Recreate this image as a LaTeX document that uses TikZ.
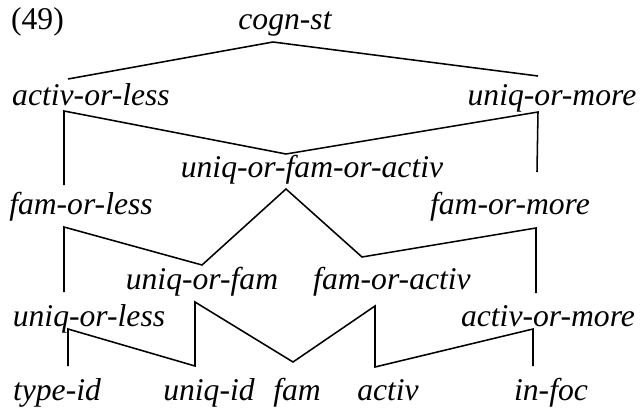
\documentclass[tikz,border=0pt]{standalone}
\usepackage{fontspec}
\setmainfont{Liberation Serif}[ItalicFont={Liberation Serif Italic}]
\usetikzlibrary{math}
\tikzset{
  lat/.style={anchor=base, inner sep=0pt, font=\fontsize{22.5}{27}\selectfont\itshape},
  lnk/.style={line width=1.1pt}
}

\begin{document}
\begin{tikzpicture}[x=0.025cm,y=-0.025cm]
\tikzmath{
\rA=29; \rB=105; \rC=177; \rD=214; \rE=289; \rF=326; \rG=400;
}
\useasboundingbox (0,0) rectangle (640,409);

% types
\node[lat, font=\fontsize{22.5}{27}\selectfont\upshape] (ex) at (37.5,\rA) {(49)};
\node[lat] (cogn) at (285,\rA) {cogn-st};
\node[lat] (al) at (91,\rB) {activ-or-less};
\node[lat] (um) at (552,\rB) {uniq-or-more};
\node[lat] (ufa) at (312,\rC) {uniq-or-fam-or-activ};
\node[lat] (fl) at (81,\rD) {fam-or-less};
\node[lat] (fm) at (510,\rD) {fam-or-more};
\node[lat] (uf) at (202,\rE) {uniq-or-fam};
\node[lat] (fa) at (392,\rE) {fam-or-activ};
\node[lat] (ul) at (89,\rF) {uniq-or-less};
\node[lat] (am) at (548,\rF) {activ-or-more};
\node[lat] (tid) at (57,\rG) {type-id};
\node[lat] (uid) at (209,\rG) {uniq-id};
\node[lat] (fam) at (297,\rG) {fam};
\node[lat] (act) at (388,\rG) {activ};
\node[lat] (foc) at (551,\rG) {in-foc};

% attachment points
\coordinate (cogn-b) at (273,42);
\coordinate (al-t) at (68,79);
\coordinate (al-b) at (64,111);
\coordinate (um-t) at (538,76);
\coordinate (um-b) at (538,112);
\coordinate (ufa-t) at (286,154);
\coordinate (ufa-b) at (286,189);
\coordinate (fl-t) at (64,185);
\coordinate (fl-b) at (64,227);
\coordinate (fm-t) at (537,172);
\coordinate (fm-b) at (536,228);
\coordinate (uf-t) at (202,265);
\coordinate (uf-b) at (195,302);
\coordinate (fa-t) at (362,257);
\coordinate (fa-b) at (375,306);
\coordinate (ul-t) at (64,292);
\coordinate (ul-b) at (68,329);
\coordinate (am-t) at (536,293);
\coordinate (am-b) at (533,329);
\coordinate (tid-t) at (68,366);
\coordinate (uid-t) at (195,366);
\coordinate (fam-t) at (293,362);
\coordinate (act-t) at (375,367);
\coordinate (foc-t) at (533,366);

\draw[lnk] (al-t) -- (cogn-b) -- (um-t);
\draw[lnk] (fl-t) -- (al-b) -- (ufa-t) -- (um-b) -- (fm-t);
\draw[lnk] (ul-t) -- (fl-b) -- (uf-t) -- (ufa-b) -- (fa-t) -- (fm-b) -- (am-t);
\draw[lnk] (tid-t) -- (ul-b) -- (uid-t) -- (uf-b) -- (fam-t) -- (fa-b) -- (act-t) -- (am-b) -- (foc-t);
\end{tikzpicture}
\end{document}
